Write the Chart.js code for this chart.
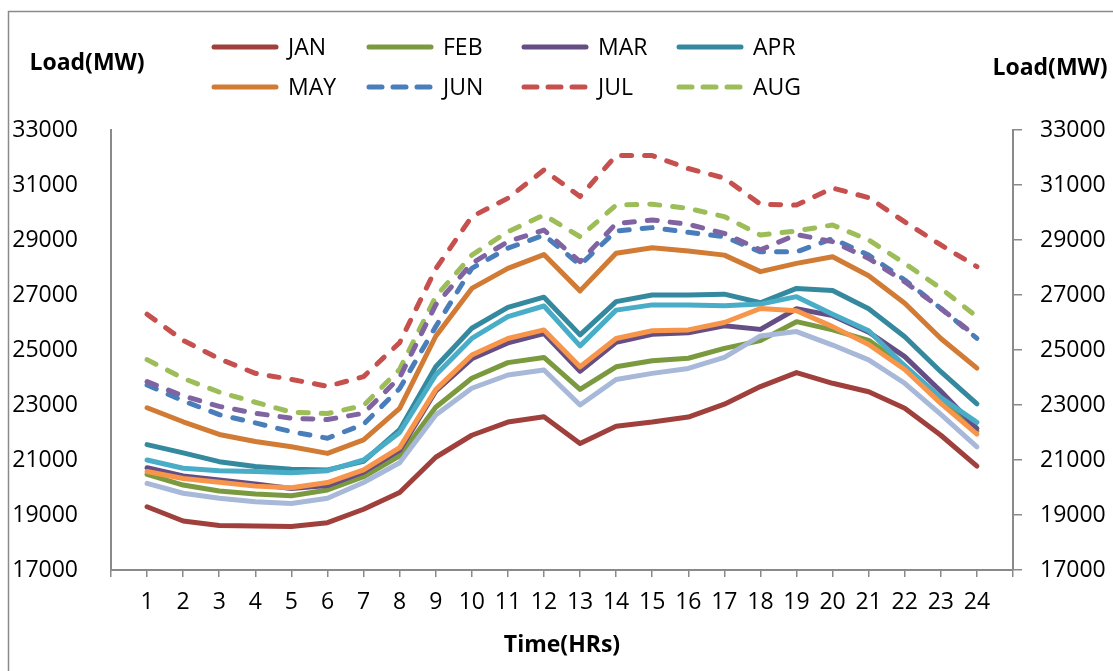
<!DOCTYPE html>
<html>
<head>
<meta charset="utf-8">
<title>Hourly Load Profile by Month</title>
<script src="https://cdn.jsdelivr.net/npm/chart.js@4/dist/chart.umd.min.js"></script>
<style>
  html, body { margin: 0; padding: 0; background: #ffffff; }
  canvas { display: block; }
</style>
</head>
<body>
<canvas id="load" width="1113" height="671"></canvas>
<script>
// Hour of day (x axis)
const hours = [1, 2, 3, 4, 5, 6, 7, 8, 9, 10, 11, 12, 13, 14, 15, 16, 17, 18, 19, 20, 21, 22, 23, 24];

// Average hourly load per month, MW
const JAN = [19300, 18780, 18620, 18600, 18580, 18720, 19210, 19820, 21100, 21900, 22380, 22570, 21600, 22230, 22380, 22560, 23030, 23670, 24180, 23790, 23480, 22880, 21900, 20780];
const FEB = [20480, 20090, 19870, 19760, 19700, 19910, 20390, 21150, 22920, 23970, 24540, 24730, 23570, 24390, 24610, 24700, 25060, 25340, 26030, 25730, 25350, 24420, 23180, 22050];
const MAR = [20720, 20420, 20270, 20130, 19960, 20070, 20560, 21350, 23500, 24680, 25260, 25600, 24230, 25280, 25570, 25630, 25880, 25750, 26500, 26250, 25650, 24760, 23500, 22150];
const APR = [21560, 21260, 20940, 20760, 20660, 20640, 20950, 22100, 24390, 25790, 26550, 26920, 25550, 26760, 27000, 27000, 27030, 26720, 27240, 27160, 26500, 25480, 24210, 23040];
const MAY = [22900, 22390, 21930, 21670, 21480, 21240, 21730, 22880, 25500, 27240, 27970, 28470, 27150, 28520, 28720, 28600, 28450, 27850, 28150, 28390, 27700, 26700, 25420, 24340];
const JUN = [23730, 23150, 22650, 22350, 22030, 21790, 22300, 23600, 25850, 27970, 28700, 29180, 28090, 29330, 29450, 29280, 29120, 28570, 28570, 29050, 28450, 27545, 26510, 25420];
const JUL = [26300, 25350, 24680, 24150, 23930, 23680, 24030, 25270, 27950, 29850, 30520, 31545, 30580, 32070, 32070, 31600, 31250, 30300, 30270, 30890, 30540, 29660, 28820, 28030];
const AUG = [24650, 23970, 23470, 23100, 22740, 22690, 22980, 24300, 26940, 28450, 29300, 29910, 29120, 30270, 30300, 30150, 29850, 29180, 29330, 29545, 29000, 28150, 27240, 26210];
const SEP = [23850, 23330, 22950, 22700, 22520, 22470, 22700, 24000, 26640, 28150, 28940, 29360, 28210, 29600, 29730, 29570, 29240, 28640, 29200, 28940, 28330, 27480, 26510, 25480];
const OCT = [21000, 20700, 20610, 20580, 20540, 20610, 21000, 22000, 24090, 25420, 26210, 26600, 25150, 26450, 26640, 26640, 26610, 26670, 26940, 26300, 25700, 24420, 23270, 22370];
const NOV = [20580, 20330, 20190, 20050, 19990, 20180, 20640, 21450, 23560, 24820, 25420, 25730, 24390, 25420, 25700, 25730, 26000, 26510, 26430, 25850, 25200, 24290, 23060, 21940];
const DEC = [20150, 19790, 19610, 19480, 19420, 19610, 20180, 20900, 22640, 23610, 24090, 24270, 23000, 23930, 24150, 24330, 24730, 25510, 25670, 25180, 24640, 23790, 22660, 21480];

// Axis settings
const loadMin = 17000;
const loadMax = 33000;
const loadStep = 2000;
const axisTitleY = 'Load(MW)';
const axisTitleX = 'Time(HRs)';

// Month series: name, values, colour, dashed
const monthNames = ['JAN', 'FEB', 'MAR', 'APR', 'MAY', 'JUN', 'JUL', 'AUG', 'SEP', 'OCT', 'NOV', 'DEC'];
const monthValues = [JAN, FEB, MAR, APR, MAY, JUN, JUL, AUG, SEP, OCT, NOV, DEC];
const monthColors = ['#A0403C', '#7B9A3F', '#654E84', '#34899F', '#D17B34', '#4A7EBB',
                     '#C6504D', '#9DBD59', '#8064A2', '#49ADC7', '#F7954A', '#A7B8D8'];
const monthDashed = [false, false, false, false, false, true, true, true, true, false, false, false];
const legendCount = 8;   // months listed in the key

const FONT = "'Open Sans', 'DejaVu Sans', sans-serif";
const AXIS_GREY = '#8a8a8a';
const LINE_DASH = [10, 13];
const KEY_DASH = [13, 11];

const datasets = monthNames.map((name, i) => ({
  label: name,
  data: hours.map((h, k) => ({ x: h, y: monthValues[i][k] })),
  borderColor: monthColors[i],
  backgroundColor: monthColors[i],
  borderWidth: 5,
  borderDash: monthDashed[i] ? LINE_DASH : [],
  borderCapStyle: 'round',
  borderJoinStyle: 'round',
  pointRadius: 0,
  tension: 0,
  fill: false,
  order: monthNames.length - i   // later months painted over earlier ones
}));

// Frame, key and horizontal axis titles painted on the canvas
const decorations = {
  id: 'decorations',
  beforeDraw(chart) {
    const ctx = chart.ctx;
    ctx.save();
    ctx.fillStyle = '#ffffff';
    ctx.fillRect(0, 0, chart.width, chart.height);
    ctx.strokeStyle = AXIS_GREY;
    ctx.lineWidth = 1.5;
    ctx.beginPath();
    ctx.moveTo(8.5, chart.height);
    ctx.lineTo(8.5, 11.5);
    ctx.lineTo(chart.width, 11.5);
    ctx.stroke();
    ctx.restore();
  },
  afterDraw(chart) {
    const ctx = chart.ctx;
    ctx.save();
    // key: 4 columns x 2 rows
    const ds = chart.data.datasets;
    for (let i = 0; i < legendCount; i++) {
      const col = i % 4, row = Math.floor(i / 4);
      const x0 = 212 + col * 155;
      const y = 47 + row * 40;
      ctx.strokeStyle = ds[i].borderColor;
      ctx.lineWidth = 5;
      ctx.lineCap = 'round';
      ctx.setLineDash(monthDashed[i] ? KEY_DASH : []);
      ctx.beginPath();
      ctx.moveTo(x0 + 2, y);
      ctx.lineTo(x0 + 64, y);
      ctx.stroke();
      ctx.setLineDash([]);
      ctx.fillStyle = '#000000';
      ctx.font = '23px ' + FONT;
      ctx.textAlign = 'left';
      ctx.textBaseline = 'middle';
      ctx.fillText(ds[i].label, x0 + 76, y + 1);
    }
    // axis titles
    ctx.font = 'bold 23px ' + FONT;
    ctx.textAlign = 'center';
    ctx.textBaseline = 'middle';
    ctx.fillStyle = '#000000';
    ctx.fillText(axisTitleY, 87, 63);
    ctx.fillText(axisTitleY, 1050, 68);
    ctx.fillText(axisTitleX, (chart.chartArea.left + chart.chartArea.right) / 2, 645);
    ctx.restore();
  }
};

Chart.defaults.font.family = FONT;
Chart.defaults.font.size = 23;
Chart.defaults.color = '#000000';

new Chart(document.getElementById('load'), {
  type: 'line',
  data: { datasets },
  options: {
    responsive: false,
    animation: false,
    layout: { padding: { top: 130, left: 0, right: 0, bottom: 0 } },
    plugins: {
      legend: { display: false },
      tooltip: { enabled: false },
      title: { display: false }
    },
    scales: {
      x: {
        type: 'linear',
        position: 'bottom',
        min: 0,
        max: hours.length + 1,
        afterFit(scale) { scale.height = 101; },
        afterBuildTicks(scale) {
          const t = [];
          for (let v = 0; v <= hours.length + 1; v++) t.push({ value: v });
          scale.ticks = t;
        },
        ticks: {
          autoSkip: false,
          maxRotation: 0,
          padding: 12,
          callback: v => (v >= 1 && v <= hours.length) ? String(v) : ''
        },
        grid: { drawOnChartArea: false, drawTicks: true, tickLength: 7, color: AXIS_GREY, lineWidth: 1.5 },
        border: { display: true, color: AXIS_GREY, width: 2 }
      },
      y: {
        type: 'linear',
        position: 'left',
        min: loadMin,
        max: loadMax,
        afterFit(scale) { scale.width = 111; },
        ticks: { stepSize: loadStep, padding: 33, callback: v => String(v) },
        grid: { drawOnChartArea: false, drawTicks: false },
        border: { display: true, color: AXIS_GREY, width: 2 }
      },
      y2: {
        type: 'linear',
        position: 'right',
        min: loadMin,
        max: loadMax,
        afterFit(scale) { scale.width = 100; },
        ticks: { stepSize: loadStep, padding: 18, callback: v => String(v) },
        grid: { drawOnChartArea: false, drawTicks: true, tickLength: 9, color: AXIS_GREY, lineWidth: 1.5 },
        border: { display: true, color: AXIS_GREY, width: 2 }
      }
    }
  },
  plugins: [decorations]
});
</script>
</body>
</html>
